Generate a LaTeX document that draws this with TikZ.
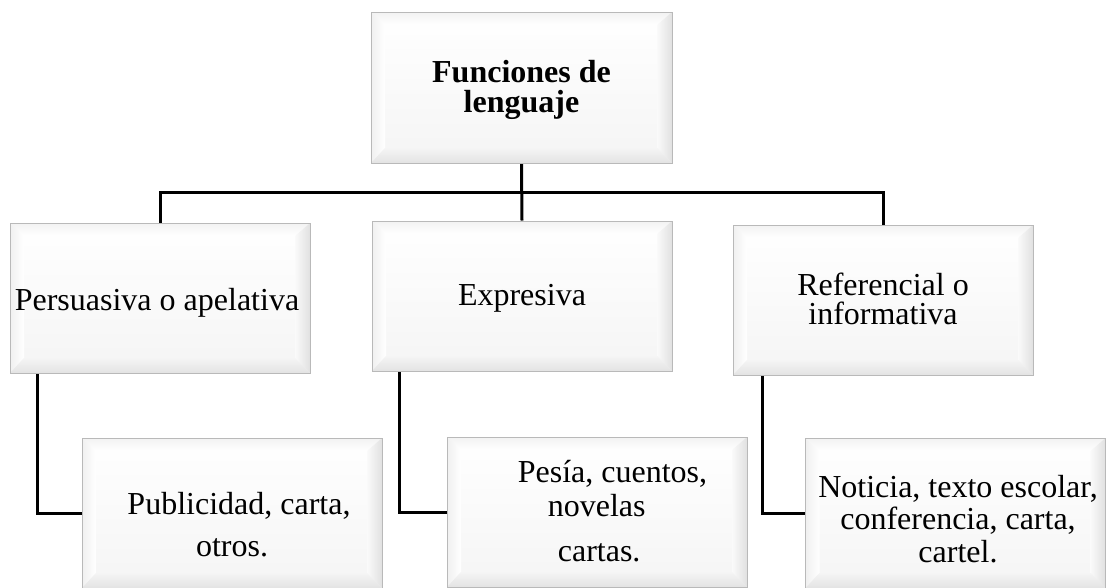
\documentclass[tikz,border=0pt]{standalone}
\usepackage{fontspec}
\setmainfont{Liberation Serif}
\usetikzlibrary{backgrounds}

\tikzset{
  bevelbox/.style={draw=gray!55, line width=1pt, fill=white,
    minimum width=300pt, minimum height=150pt, inner sep=0pt,
    path picture={
      \coordinate (sw) at (path picture bounding box.south west);
      \coordinate (se) at (path picture bounding box.south east);
      \coordinate (ne) at (path picture bounding box.north east);
      \coordinate (nw) at (path picture bounding box.north west);
      \coordinate (swi) at ([shift={(14pt,15pt)}]sw);
      \coordinate (sei) at ([shift={(-15pt,15pt)}]se);
      \coordinate (nei) at ([shift={(-15pt,-13pt)}]ne);
      \coordinate (nwi) at ([shift={(14pt,-13pt)}]nw);
      \shade[top color=white, middle color=white, bottom color=gray!8] (sw) rectangle (ne);
      \shade[top color=gray!10, bottom color=white] (nw) -- (ne) -- (nei) -- (nwi) -- cycle;
      \shade[left color=gray!12, right color=white] (nw) -- (nwi) -- (swi) -- (sw) -- cycle;
      \shade[left color=gray!4, right color=gray!24] (ne) -- (nei) -- (sei) -- (se) -- cycle;
      \shade[top color=gray!8, bottom color=gray!22] (sw) -- (swi) -- (sei) -- (se) -- cycle;
    }},
  conn/.style={line width=3pt, black},
  txt/.style={font=\fontsize{32}{32.5}\selectfont, align=center, inner sep=0pt}
}

\begin{document}
\begin{tikzpicture}[x=1pt, y=-1pt]
\useasboundingbox (0,0) rectangle (1109,587);

% boxes
\node[bevelbox, minimum width=301pt, minimum height=151pt] (root) at (521.5,87.5) {};
\node[bevelbox] (pers) at (160,298) {};
\node[bevelbox] (expr) at (522,296) {};
\node[bevelbox] (refe) at (883,300) {};
\node[bevelbox] (publ) at (232,513) {};
\node[bevelbox] (pesi) at (597,512) {};
\node[bevelbox] (noti) at (955.5,513) {};

% texts
\node[txt, font=\fontsize{32}{30}\selectfont\bfseries] (roottxt) at (521.5,89.5) {Funciones de\\lenguaje};
\node[txt, anchor=base] (perstxt) at (157,310) {Persuasiva o apelativa};
\node[txt, anchor=base] (exprtxt) at (522,305) {Expresiva};
\node[txt, font=\fontsize{32}{29}\selectfont] (refetxt) at (883,299) {Referencial o\\informativa};
\node[txt] (publtxt) at (232,525) {\hspace*{14pt}Publicidad, carta,\\[9.5pt]otros.};
\node[txt, align=left] (pesitxt) at (612.5,511.5) {Pesía, cuentos,\\[1.5pt]\hspace*{30pt}novelas\\[12.5pt]\hspace*{40pt}cartas.};
\node[txt] (notitxt) at (958,519) {Noticia, texto escolar,\\conferencia, carta,\\cartel.};

% connectors
\begin{scope}[on background layer]
\coordinate (bus) at (521.5,192);
\draw[conn] (root.south) -- (expr.north);
\draw[conn] (pers.north) |- (bus) -| (refe.north);
\draw[conn] ([xshift=28pt]pers.south west) |- (publ.west);
\draw[conn] ([xshift=28pt]expr.south west) |- (pesi.west);
\draw[conn] ([xshift=30pt]refe.south west) |- (noti.west);
\end{scope}
\end{tikzpicture}
\end{document}
